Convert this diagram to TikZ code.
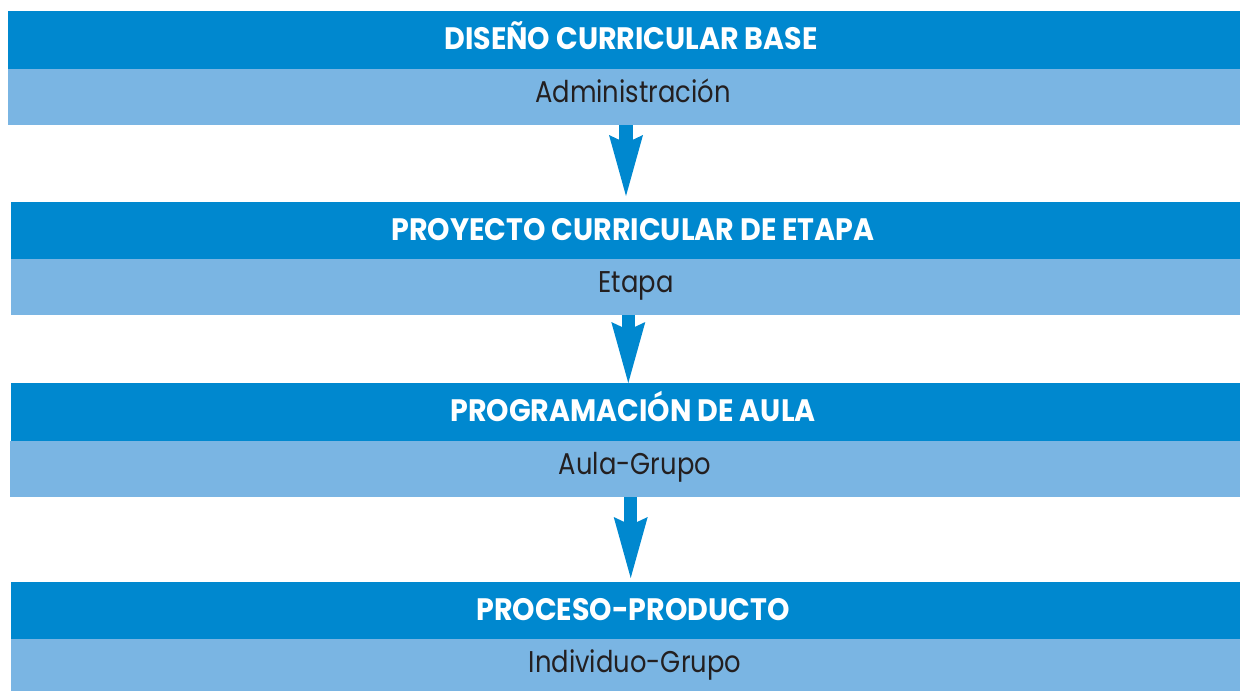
\documentclass[tikz,border=0pt]{standalone}
\usepackage{fontspec}
\setmainfont{Poppins}
\newfontfamily\hfont[FakeStretch=0.92]{Poppins}
\newfontfamily\lfont[FakeStretch=0.86]{Poppins}
\usetikzlibrary{arrows.meta}
\definecolor{darkblue}{HTML}{0088CF}
\definecolor{lightblue}{HTML}{7AB5E3}
\definecolor{textgray}{HTML}{231F20}
\tikzset{
  hbox/.style={fill=darkblue, inner sep=0pt, outer sep=0pt, anchor=north west},
  lbox/.style={fill=lightblue, inner sep=0pt, outer sep=0pt, anchor=north west},
  htext/.style={text=white, font=\hfont\fontsize{31}{31}\selectfont\bfseries, anchor=base, inner sep=0pt},
  ltext/.style={text=textgray, font=\lfont\fontsize{30}{30}\selectfont, anchor=base, inner sep=0pt},
  flow/.style={draw=darkblue, line width=13.4pt,
    -{Stealth[length=61pt, width=34pt, inset=8pt, line width=0pt, fill=darkblue]}}
}
\begin{document}
\begin{tikzpicture}[x=1pt,y=-1pt]
\useasboundingbox (0,0) rectangle (1240,691);
% box 1
\node[hbox, minimum width=1232pt, minimum height=58pt] (h1) at (8,11) {};
\node[lbox, minimum width=1232pt, minimum height=56pt] (l1) at (8,69) {};
\node[htext] (t1) at (631,49.5) {DISEÑO CURRICULAR BASE};
\node[ltext] (s1) at (633,102.7) {Administración};
% box 2
\node[hbox, minimum width=1229pt, minimum height=57pt] (h2) at (11,202) {};
\node[lbox, minimum width=1229pt, minimum height=56pt] (l2) at (11,259) {};
\node[htext] (t2) at (633,240.5) {PROYECTO CURRICULAR DE ETAPA};
\node[ltext] (s2) at (636,292.7) {Etapa};
% box 3
\node[hbox, minimum width=1229pt, minimum height=58pt] (h3) at (11,383) {};
\node[lbox, minimum width=1230pt, minimum height=56pt] (l3) at (10,441) {};
\node[htext] (t3) at (633,421.5) {PROGRAMACIÓN DE AULA};
\node[ltext] (s3) at (635,474.7) {Aula-Grupo};
% box 4
\node[hbox, minimum width=1229pt, minimum height=57pt] (h4) at (11,582) {};
\node[lbox, minimum width=1229pt, minimum height=52pt] (l4) at (11,639) {};
\node[htext] (t4) at (633,620.5) {PROCESO-PRODUCTO};
\node[ltext] (s4) at (635,672.7) {Individuo-Grupo};
% arrows
\coordinate (a1) at (626,0);
\coordinate (a2) at (628.3,0);
\coordinate (a3) at (630.7,0);
\draw[flow, shorten >=6pt] (l1.south -| a1) -- (h2.north -| a1);
\draw[flow, shorten >=0pt] (l2.south -| a2) -- (h3.north -| a2);
\draw[flow, shorten >=4pt] (l3.south -| a3) -- (h4.north -| a3);
\end{tikzpicture}
\end{document}
